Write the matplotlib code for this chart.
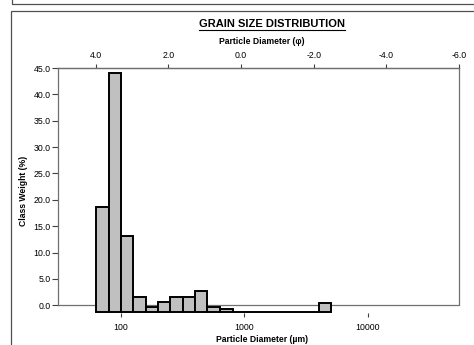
import numpy as np
import matplotlib
matplotlib.use("Agg")
import matplotlib.pyplot as plt
from matplotlib.lines import Line2D
from matplotlib.patches import Rectangle

plt.rcParams['font.family'] = ['Liberation Sans', 'DejaVu Sans']
plt.rcParams['axes.unicode_minus'] = False

# sieve classes (um, R10 series) and class weight (%)
bin_edges = [63, 80, 100, 125, 160, 200, 250, 315, 400, 500, 630, 800,
             1000, 1250, 1600, 2000, 2500, 3150, 4000, 5000]
class_weight = [20.0, 45.4, 14.5, 2.8, 0.9, 2.0, 2.8, 2.8, 4.0, 1.0, 0.6,
                0.0, 0.0, 0.0, 0.0, 0.0, 0.0, 0.0, 1.8]
bar_base = -1.3   # columns hang from below the 0 line in the original

y_ticks = [0, 5, 10, 15, 20, 25, 30, 35, 40, 45]
um_ticks = [100, 1000, 10000]
phi_ticks = [4, 2, 0, -2, -4, -6]

W, H = 474, 345
fig = plt.figure(figsize=(W / 100, H / 100), dpi=100)

# panel frames
fig.add_artist(Rectangle((11.7 / W, 1 - 4 / H), 1, 0.2, transform=fig.transFigure,
                         fill=False, ec='#505050', lw=0.9))
fig.add_artist(Rectangle((11 / W, -0.2), 1, 1.2 - 10.5 / H, transform=fig.transFigure,
                         fill=False, ec='#505050', lw=0.9))

left, right, top, bottom = 58, 459, 68, 313
ax = fig.add_axes([left / W, 1 - bottom / H, (right - left) / W, (bottom - top) / H])

edges = np.array(bin_edges, dtype=float)
ax.bar(edges[:-1], class_weight, width=np.diff(edges), bottom=bar_base, align='edge',
       color='#c0c0c0', edgecolor='black', linewidth=1.4, clip_on=False, zorder=3)

ax.set_xscale('log')
ax.set_xlim(30.9, 54600)
ax.set_ylim(-1.46, 45)
ax.axhline(0, color='#707070', lw=0.9, zorder=2)

ax.set_xticks(um_ticks)
ax.set_xticklabels([str(t) for t in um_ticks])
ax.xaxis.set_minor_locator(matplotlib.ticker.NullLocator())
ax.set_yticks(y_ticks)
ax.set_yticklabels(['%.1f' % t for t in y_ticks])
ax.tick_params(axis='both', labelsize=6.3, color='#404040', direction='out')
ax.tick_params(axis='x', length=3, pad=4)
ax.tick_params(axis='y', length=4, pad=1.5)

for s in ['left', 'right']:
    ax.spines[s].set_bounds(0, 45)
    ax.spines[s].set_color('#707070')
    ax.spines[s].set_linewidth(0.9)
ax.spines['bottom'].set_visible(False)
ax.spines['top'].set_color('#707070')
ax.spines['top'].set_linewidth(0.9)

ax.set_ylabel('Class Weight (%)', fontsize=6.2, fontweight='bold', labelpad=4)

# phi scale on top
ax2 = ax.twiny()
ax2.set_xlim(5.04, -6.0)
ax2.set_xticks(phi_ticks)
ax2.set_xticklabels(['%.1f' % t for t in phi_ticks])
ax2.tick_params(axis='x', labelsize=6.3, length=3, pad=3, color='#404040')
for s in ['left', 'right', 'bottom']:
    ax2.spines[s].set_visible(False)
ax2.spines['top'].set_color('#707070')
ax2.spines['top'].set_linewidth(0.9)

fig.text(262 / W, 1 - 339 / H, 'Particle Diameter (\u00b5m)', ha='center', va='center',
         fontsize=6.2, fontweight='bold')
fig.text(262 / W, 1 - 41 / H, 'Particle Diameter (\u03c6)', ha='center', va='center',
         fontsize=6.2, fontweight='bold')

title = fig.text(272 / W, 1 - 24 / H, 'GRAIN SIZE DISTRIBUTION', ha='center', va='center',
                 fontsize=8, fontweight='bold')
fig.canvas.draw()
bb = title.get_window_extent()
uy = 1 - 29.5 / H
fig.add_artist(Line2D([bb.x0 / W, bb.x1 / W], [uy, uy], transform=fig.transFigure,
                      color='black', lw=0.8))

fig.savefig('out.png', dpi=100)
